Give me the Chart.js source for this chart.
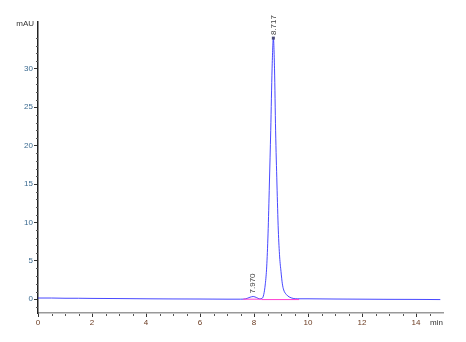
<!DOCTYPE html>
<html>
<head>
<meta charset="utf-8">
<script src="https://cdn.jsdelivr.net/npm/chart.js@4/dist/chart.umd.min.js"></script>
<style>
  html, body { margin: 0; padding: 0; background: #fff; }
  #wrap { width: 466px; height: 342px; }
</style>
</head>
<body>
<div id="wrap"><canvas id="chroma"></canvas></div>
<script>
// retention time (min) and signal (mAU)
const times = [0, 0.5, 1, 1.5, 2, 3, 4, 5, 6, 7, 7.5, 7.7, 7.85, 7.97, 8.1, 8.2, 8.3,
  8.36, 8.42, 8.47, 8.52, 8.57, 8.62, 8.67, 8.717, 8.76, 8.8, 8.85, 8.9, 8.95, 9.0,
  9.05, 9.1, 9.2, 9.3, 9.45, 9.6, 10, 11, 12, 13, 14, 14.9];
const signal = [0.15, 0.15, 0.12, 0.12, 0.1, 0.08, 0.05, 0.03, 0.02, 0.0, 0.0, 0.05, 0.25, 0.35, 0.2, 0.05, 0.1,
  0.6, 2.0, 4.2, 8.5, 15, 22, 30, 34.0, 30, 22, 15, 9, 5.5, 3.6,
  2.0, 1.2, 0.6, 0.3, 0.1, 0.05, 0.05, 0.02, 0.0, -0.02, -0.03, -0.05];

// integration baselines
const baseTimes = [7.6, 8.28, null, 8.28, 9.67];
const baseValues = [0, 0, null, -0.05, -0.05];

// peak labels
const peakTimes = [7.970, 8.717];
const peakHeights = [0.35, 34.0];
const peakNames = ['7.970', '8.717'];

const xTicks = [0, 2, 4, 6, 8, 10, 12, 14];
const yTicks = [0, 5, 10, 15, 20, 25, 30];

const tickFont = { family: '"Liberation Sans Narrow", "Liberation Sans", Arial, sans-serif', size: 8 };

const traceData = times.map((t, i) => ({ x: t, y: signal[i] }));
const baseData = baseTimes.map((t, i) => ({ x: t, y: baseValues[i] }));

// minor ticks, axis captions and peak labels
const extras = {
  id: 'extras',
  afterDraw(chart) {
    const { ctx, chartArea, scales } = chart;
    const xs = scales.x, ys = scales.y;
    ctx.save();
    ctx.strokeStyle = '#555';
    ctx.lineWidth = 1;
    // y minor ticks
    for (let v = -1; v <= 35; v++) {
      if (v % 5 === 0) continue;
      const py = Math.round(ys.getPixelForValue(v)) + 0.5;
      ctx.beginPath();
      ctx.moveTo(chartArea.left - 2, py);
      ctx.lineTo(chartArea.left, py);
      ctx.stroke();
    }
    // x minor ticks
    for (let v = 0.5; v < 15; v += 0.5) {
      if (v % 2 === 0) continue;
      const px = Math.round(xs.getPixelForValue(v)) + 0.5;
      ctx.beginPath();
      ctx.moveTo(px, chartArea.bottom + 1);
      ctx.lineTo(px, chartArea.bottom + 3);
      ctx.stroke();
    }
    ctx.font = '8px ' + tickFont.family;
    ctx.fillStyle = '#333';
    ctx.textBaseline = 'middle';
    ctx.textAlign = 'right';
    ctx.fillText('mAU', chartArea.left - 4, chartArea.top + 2);
    ctx.fillText('min', chartArea.right, chartArea.bottom + 10);

    // peak apex marker
    const ax = xs.getPixelForValue(peakTimes[1]);
    const ay = ys.getPixelForValue(peakHeights[1]);
    ctx.fillStyle = '#4a4a7a';
    ctx.fillRect(ax - 1.5, ay - 1.5, 3, 3);

    // rotated labels
    ctx.fillStyle = '#444';
    ctx.textAlign = 'left';
    peakTimes.forEach((t, i) => {
      const px = xs.getPixelForValue(t);
      const py = ys.getPixelForValue(peakHeights[i]) - 3;
      ctx.save();
      ctx.translate(px, py);
      ctx.rotate(-Math.PI / 2);
      ctx.fillText(peakNames[i], 0, 0);
      ctx.restore();
    });
    ctx.restore();
  }
};

new Chart(document.getElementById('chroma'), {
  type: 'line',
  data: {
    datasets: [
      {
        data: baseData,
        borderColor: '#ff40d0',
        borderWidth: 1,
        pointRadius: 0,
        spanGaps: false
      },
      {
        data: traceData,
        borderColor: 'rgba(40, 40, 255, 0.85)',
        borderWidth: 1,
        pointRadius: 0,
        cubicInterpolationMode: 'monotone'
      }
    ]
  },
  plugins: [extras],
  options: {
    responsive: true,
    maintainAspectRatio: false,
    animation: false,
    layout: { padding: { left: 0, right: 23, top: 22, bottom: 0 } },
    plugins: { legend: { display: false }, tooltip: { enabled: false } },
    scales: {
      x: {
        type: 'linear',
        min: 0,
        max: 15,
        afterBuildTicks: (s) => { s.ticks = xTicks.map(v => ({ value: v })); },
        afterFit: (s) => { s.height = 29; },
        border: { color: '#999', width: 1.5 },
        grid: { drawOnChartArea: false, tickLength: 4, color: '#333' },
        ticks: { font: tickFont, color: '#6a3a20', padding: 1, maxRotation: 0 }
      },
      y: {
        min: -1.8,
        max: 36.1,
        afterBuildTicks: (s) => { s.ticks = yTicks.map(v => ({ value: v })); },
        afterFit: (s) => { s.width = 38; },
        border: { color: '#222', width: 1.5 },
        grid: { drawOnChartArea: false, tickLength: 4, color: '#333' },
        ticks: { font: tickFont, color: '#3a6a90', padding: 1 }
      }
    }
  }
});
</script>
</body>
</html>
